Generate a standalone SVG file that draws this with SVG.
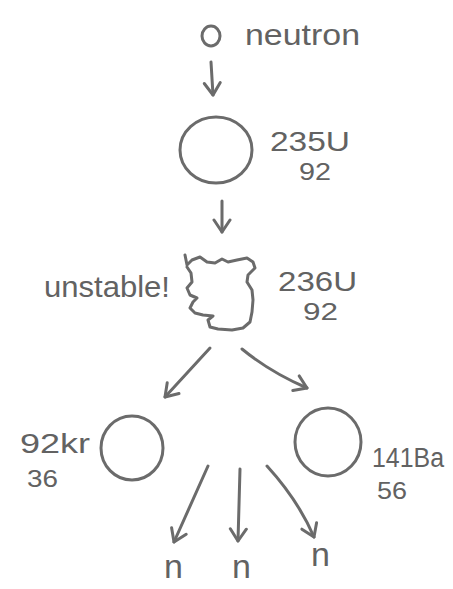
<svg xmlns="http://www.w3.org/2000/svg" width="453" height="589" viewBox="0 0 453 589">
<style>
.ln{fill:none;stroke:#6b6b6b;stroke-width:3;stroke-linecap:round;stroke-linejoin:round}
.tx{font-family:"Liberation Sans",Arial,sans-serif;fill:#626262}
</style>
<defs>
<marker id="ah" viewBox="-14 -10 16 20" markerWidth="16" markerHeight="20" refX="0" refY="0" orient="auto" markerUnits="userSpaceOnUse">
<path d="M-12,-8 L0,0 L-12,8" fill="none" stroke="#6b6b6b" stroke-width="3" stroke-linecap="round" stroke-linejoin="round"/>
</marker>
</defs>
<rect width="453" height="589" fill="#fff"/>
<g id="neutron">
<ellipse class="ln" cx="211" cy="36" rx="9" ry="10"/>
<text class="tx" x="245" y="45" font-size="30" textLength="115" lengthAdjust="spacingAndGlyphs">neutron</text>
</g>
<g id="u235">
<ellipse class="ln" cx="216" cy="150" rx="36" ry="33"/>
<text class="tx" x="270" y="151" font-size="27" textLength="80" lengthAdjust="spacingAndGlyphs">235U</text>
<text class="tx" x="299" y="180" font-size="23" textLength="32" lengthAdjust="spacingAndGlyphs">92</text>
</g>
<g id="u236">
<path class="ln" d="M185,255 L187,265 L192,260 L200,257 L207,262 L215,263 L222,259 L228,262 L237,260 L247,258 L253,262 L255,268 L248,275 L247,282 L252,290 L253,300 L252,312 L250,322 L243,328 L232,330 L218,329 L210,327 L208,320 L213,316 L203,315 L195,313 L190,308 L193,302 L197,298 L190,295 L187,288 L192,282 L191,273 L187,267"/>
<text class="tx" x="44" y="297" font-size="30" textLength="126" lengthAdjust="spacingAndGlyphs">unstable!</text>
<text class="tx" x="278" y="291" font-size="27" textLength="79" lengthAdjust="spacingAndGlyphs">236U</text>
<text class="tx" x="303" y="320" font-size="23" textLength="35" lengthAdjust="spacingAndGlyphs">92</text>
</g>
<g id="kr92">
<ellipse class="ln" cx="132" cy="448" rx="31" ry="32"/>
<text class="tx" x="20" y="453" font-size="28" textLength="70" lengthAdjust="spacingAndGlyphs">92kr</text>
<text class="tx" x="27" y="487" font-size="23" textLength="31" lengthAdjust="spacingAndGlyphs">36</text>
</g>
<g id="ba141">
<ellipse class="ln" cx="328" cy="442" rx="33" ry="34"/>
<text class="tx" x="372" y="467" font-size="27" textLength="72" lengthAdjust="spacingAndGlyphs">141Ba</text>
<text class="tx" x="377" y="499" font-size="23" textLength="30" lengthAdjust="spacingAndGlyphs">56</text>
</g>
<g id="n1"><text class="tx" x="164" y="578" font-size="34">n</text></g>
<g id="n2"><text class="tx" x="232" y="578" font-size="34">n</text></g>
<g id="n3"><text class="tx" x="311" y="566" font-size="34">n</text></g>
<g id="connectors">
<path class="ln" marker-end="url(#ah)" d="M211,62 L213,95"/>
<path class="ln" marker-end="url(#ah)" d="M222,201 L222,232"/>
<path class="ln" marker-end="url(#ah)" d="M210,348 L165,397"/>
<path class="ln" marker-end="url(#ah)" d="M242,349 Q270,372 307,388"/>
<path class="ln" marker-end="url(#ah)" d="M208,466 L174,542"/>
<path class="ln" marker-end="url(#ah)" d="M240,469 L238,541"/>
<path class="ln" marker-end="url(#ah)" d="M267,466 Q298,500 314,537"/>
</g>
</svg>
